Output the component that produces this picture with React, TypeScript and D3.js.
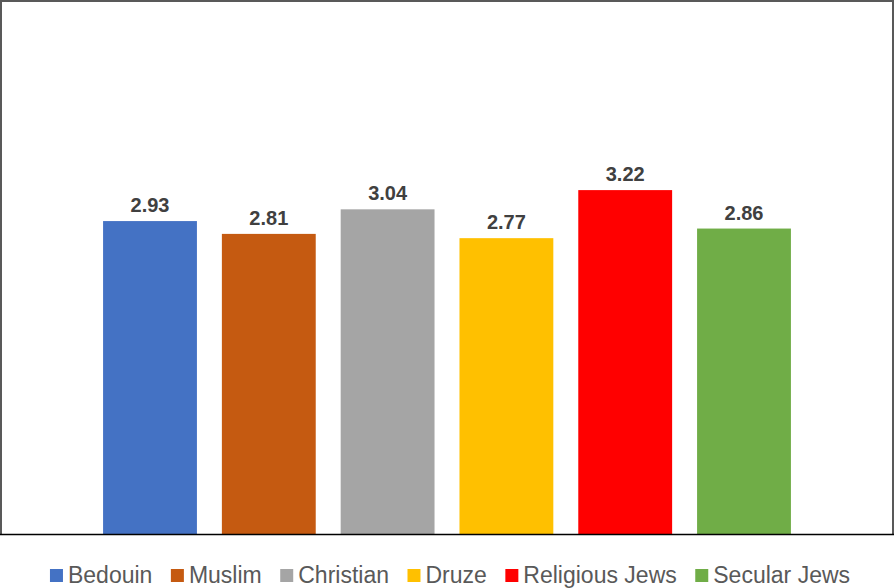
import React, { useEffect, useRef } from "react";
import * as d3 from "d3";

const categories = ["Bedouin", "Muslim", "Christian", "Druze", "Religious Jews", "Secular Jews"];
const values = [2.93, 2.81, 3.04, 2.77, 3.22, 2.86];
const colors = ["#4472C4", "#C55A11", "#A5A5A5", "#FFC000", "#FF0000", "#70AD47"];

const W = 894;
const H = 588;

export default function App() {
  const ref = useRef<SVGSVGElement | null>(null);

  useEffect(() => {
    const svg = d3.select(ref.current);
    svg.selectAll("*").remove();

    svg.append("rect").attr("x", 0).attr("y", 0).attr("width", W).attr("height", H).attr("fill", "#fff");

    // frame
    svg.append("path")
      .attr("d", `M1,534 L1,1 L893,1 L893,534`)
      .attr("fill", "none")
      .attr("stroke", "#595959")
      .attr("stroke-width", 2);

    const x = d3.scaleBand<string>()
      .domain(categories)
      .range([90.6, 803.4])
      .paddingInner(0.21)
      .paddingOuter(0.105);

    const y = d3.scaleLinear().domain([0, 5]).range([534, 534 - 5 * 106.8]);

    const g = svg.append("g");
    g.selectAll("rect.bar")
      .data(categories)
      .join("rect")
      .attr("class", "bar")
      .attr("x", (d) => x(d)!)
      .attr("width", x.bandwidth())
      .attr("y", (d, i) => y(values[i]))
      .attr("height", (d, i) => y(0) - y(values[i]))
      .attr("fill", (d, i) => colors[i]);

    g.selectAll("text.lbl")
      .data(categories)
      .join("text")
      .attr("class", "lbl")
      .attr("x", (d) => x(d)! + x.bandwidth() / 2)
      .attr("y", (d, i) => y(values[i]) - 9)
      .attr("text-anchor", "middle")
      .attr("font-family", "Liberation Sans, Arial, sans-serif")
      .attr("font-weight", "bold")
      .attr("font-size", 20)
      .attr("fill", "#404040")
      .text((d, i) => values[i].toFixed(2));

    // axis line
    svg.append("line")
      .attr("x1", 0).attr("x2", 894)
      .attr("y1", 534.5).attr("y2", 534.5)
      .attr("stroke", "#000")
      .attr("stroke-width", 1.5);

    // legend
    const leg = svg.append("g");
    const items = leg.selectAll("g.item").data(categories).join("g").attr("class", "item");
    items.append("rect")
      .attr("width", 13).attr("height", 13)
      .attr("y", 569)
      .attr("fill", (d, i) => colors[i]);
    const texts = items.append("text")
      .attr("x", 18)
      .attr("y", 583)
      .attr("font-family", "Liberation Sans, Arial, sans-serif")
      .attr("font-size", 23)
      .attr("fill", "#595959")
      .text((d) => d);
    const widths: number[] = [];
    texts.each(function () {
      widths.push((this as SVGTextElement).getComputedTextLength());
    });
    const gap = 18.5;
    const itemW = widths.map((w) => 18 + w);
    const total = d3.sum(itemW) + gap * (categories.length - 1);
    let cx = 450 - total / 2;
    items.each(function (d, i) {
      d3.select(this).attr("transform", `translate(${cx},0)`);
      cx += itemW[i] + gap;
    });
  }, []);

  return (
    <svg
      ref={ref}
      width={W}
      height={H}
      style={{ position: "absolute", left: 0, top: 0, display: "block" }}
    />
  );
}
